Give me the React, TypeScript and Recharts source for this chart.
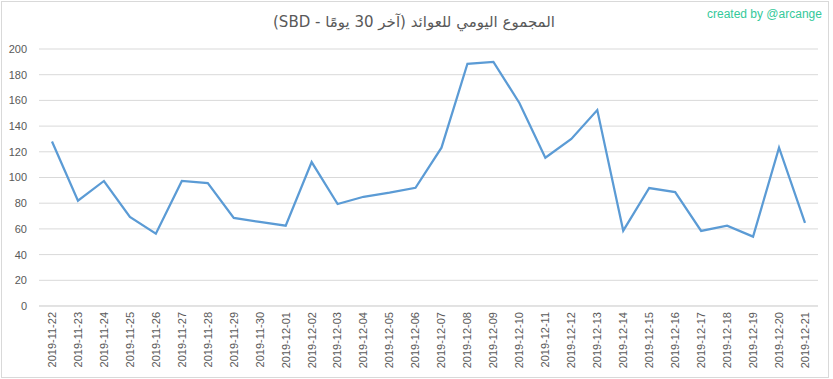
import React from "react";
import { CartesianGrid, Line, LineChart, XAxis, YAxis } from "recharts";

const dates = [
  "2019-11-22", "2019-11-23", "2019-11-24", "2019-11-25", "2019-11-26",
  "2019-11-27", "2019-11-28", "2019-11-29", "2019-11-30", "2019-12-01",
  "2019-12-02", "2019-12-03", "2019-12-04", "2019-12-05", "2019-12-06",
  "2019-12-07", "2019-12-08", "2019-12-09", "2019-12-10", "2019-12-11",
  "2019-12-12", "2019-12-13", "2019-12-14", "2019-12-15", "2019-12-16",
  "2019-12-17", "2019-12-18", "2019-12-19", "2019-12-20", "2019-12-21",
];

const rewards = [
  128, 82, 97.3, 69.3, 56.3,
  97.3, 95.7, 68.5, 65.4, 62.5,
  112, 79.4, 85, 88.2, 92,
  123.2, 188.5, 190, 158, 115.4,
  130, 152.5, 58.6, 91.8, 88.7,
  58.4, 62.5, 54, 123.2, 64.6,
];

const yTicks = [0, 20, 40, 60, 80, 100, 120, 140, 160, 180, 200];

const title = "المجموع اليومي للعوائد (آخر 30 يومًا - SBD)";
const credit = "created by @arcange";

const textColor = "#595959";
const gridColor = "#d9d9d9";
const font = "'Liberation Sans', Arial, sans-serif";

const data = dates.map((d, i) => ({ date: d, value: rewards[i] }));

const DateTick = (props: any) => {
  const { x, y, payload } = props;
  return (
    <g transform={`translate(${x},${y})`}>
      <text
        transform="rotate(-90)"
        x={-6}
        dy="0.35em"
        textAnchor="end"
        fill={textColor}
        fontSize={11}
        fontFamily={font}
      >
        {payload.value}
      </text>
    </g>
  );
};

export default function App() {
  return (
    <div
      style={{
        position: "absolute",
        left: 0,
        top: 0,
        width: 833,
        height: 379,
        background: "#fff",
      }}
    >
      <div
        style={{
          position: "absolute",
          left: 1,
          top: 1,
          width: 828,
          height: 377,
          boxSizing: "border-box",
          border: `1px solid ${gridColor}`,
        }}
      />
      <div
        dir="rtl"
        style={{
          position: "absolute",
          left: 0,
          width: 828,
          top: 12,
          textAlign: "center",
          fontFamily: "'DejaVu Sans', sans-serif",
          fontSize: 15,
          color: textColor,
          lineHeight: "20px",
        }}
      >
        {title}
      </div>
      <div
        style={{
          position: "absolute",
          left: 707,
          top: 6,
          fontFamily: font,
          fontSize: 12,
          color: "#35c99a",
          lineHeight: "16px",
          whiteSpace: "nowrap",
        }}
      >
        {credit}
      </div>
      <div style={{ position: "absolute", left: 0, top: 0 }}>
        <LineChart
          width={833}
          height={379}
          data={data}
          margin={{ top: 49, right: 15, left: 0, bottom: 3 }}
        >
          <CartesianGrid vertical={false} stroke={gridColor} strokeWidth={1} />
          <XAxis
            dataKey="date"
            interval={0}
            height={70}
            padding={{ left: 13, right: 13 }}
            tick={<DateTick />}
            tickLine={false}
            tickSize={0}
            tickMargin={0}
            axisLine={{ stroke: gridColor }}
          />
          <YAxis
            domain={[0, 200]}
            ticks={yTicks}
            width={39}
            tickLine={false}
            axisLine={false}
            tickSize={0}
            tickMargin={12}
            tick={{ fill: textColor, fontSize: 11, fontFamily: font }}
          />
          <Line
            type="linear"
            dataKey="value"
            stroke="#5b9bd5"
            strokeWidth={2.25}
            dot={false}
            isAnimationActive={false}
          />
        </LineChart>
      </div>
    </div>
  );
}
